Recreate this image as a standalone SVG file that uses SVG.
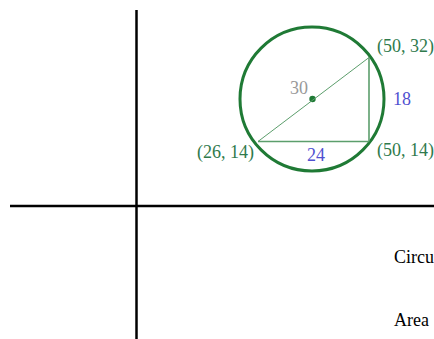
<svg xmlns="http://www.w3.org/2000/svg" width="434" height="339" viewBox="0 0 434 339">
<style>
.axis{stroke:#000;stroke-width:2.5;fill:none}
.t{font-family:"Liberation Serif",serif;font-size:18px}
.pt{fill:#2f7a4c}
.len{fill:#5050d0}
.tri{stroke:#5c9e6c;fill:none}
</style>
<rect width="434" height="339" fill="#fff"/>
<g id="axes">
<line class="axis" x1="136.5" y1="10" x2="136.5" y2="339"/>
<line class="axis" x1="10" y1="206" x2="434" y2="206"/>
</g>
<g id="circle">
<circle cx="312" cy="99" r="72" fill="none" stroke="#1f7a35" stroke-width="3"/>
<circle cx="312.5" cy="99" r="3.2" fill="#1f7a35"/>
</g>
<g id="connectors">
<line class="tri" x1="258" y1="141.5" x2="369" y2="57.5" stroke-width="1"/>
<line class="tri" x1="258" y1="141.5" x2="369" y2="141.5" stroke-width="1.6"/>
<line class="tri" x1="369" y1="141.5" x2="369" y2="57.5" stroke-width="1.6"/>
</g>
<g id="labels">
<text class="t pt" x="377" y="52">(50, 32)</text>
<text class="t pt" x="197" y="158">(26, 14)</text>
<text class="t pt" x="377" y="156">(50, 14)</text>
<text class="t" x="290" y="94" fill="#999">30</text>
<text class="t len" x="393" y="105">18</text>
<text class="t len" x="307" y="161">24</text>
<text class="t" x="394" y="263" fill="#000">Circu</text>
<text class="t" x="394" y="326" fill="#000">Area</text>
</g>
</svg>
